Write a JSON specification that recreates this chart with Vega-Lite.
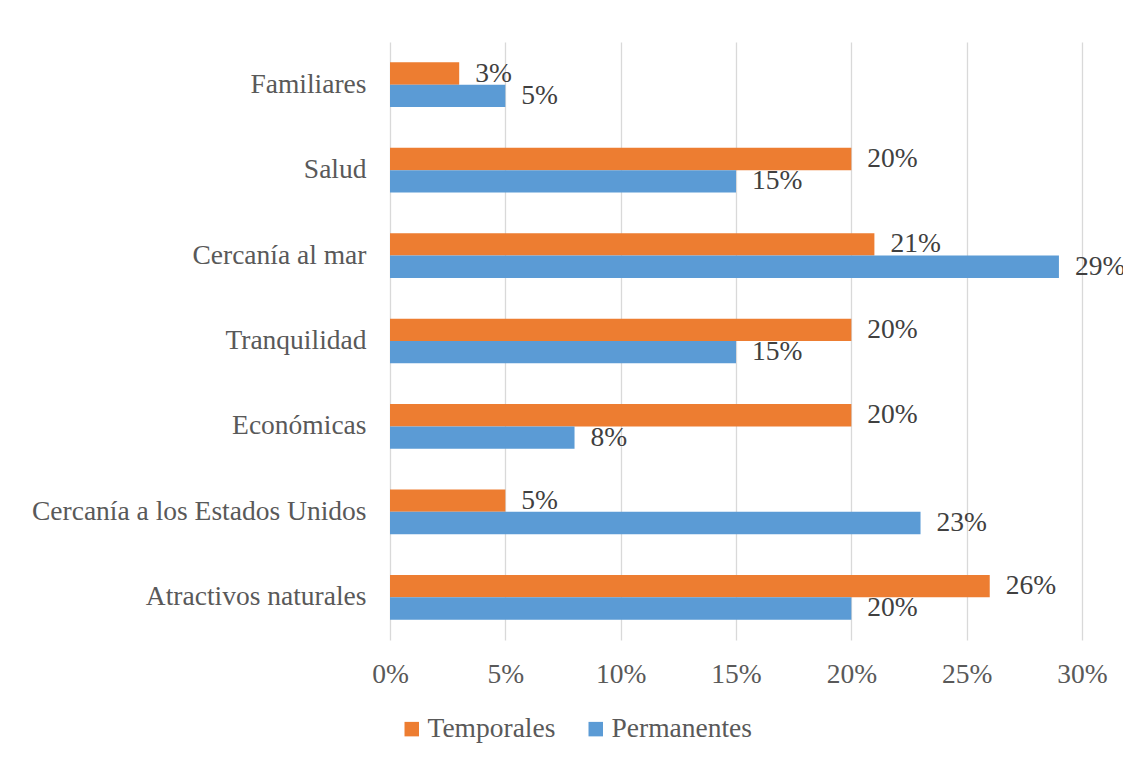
{
  "$schema": "https://vega.github.io/schema/vega-lite/v6.json",
  "width": 692,
  "height": 598,
  "autosize": "none",
  "padding": {"left": 390, "top": 42, "right": 41, "bottom": 122},
  "background": "white",
  "config": {
    "view": {"stroke": null},
    "font": "Liberation Serif",
    "axis": {"labelFont": "Liberation Serif"},
    "legend": {"labelFont": "Liberation Serif"},
    "text": {"font": "Liberation Serif"}
  },
  "data": {
    "values": [
      {"motivo": "Familiares", "tipo": "Temporales", "valor": 0.03},
      {"motivo": "Familiares", "tipo": "Permanentes", "valor": 0.05},
      {"motivo": "Salud", "tipo": "Temporales", "valor": 0.20},
      {"motivo": "Salud", "tipo": "Permanentes", "valor": 0.15},
      {"motivo": "Cercanía al mar", "tipo": "Temporales", "valor": 0.21},
      {"motivo": "Cercanía al mar", "tipo": "Permanentes", "valor": 0.29},
      {"motivo": "Tranquilidad", "tipo": "Temporales", "valor": 0.20},
      {"motivo": "Tranquilidad", "tipo": "Permanentes", "valor": 0.15},
      {"motivo": "Económicas", "tipo": "Temporales", "valor": 0.20},
      {"motivo": "Económicas", "tipo": "Permanentes", "valor": 0.08},
      {"motivo": "Cercanía a los Estados Unidos", "tipo": "Temporales", "valor": 0.05},
      {"motivo": "Cercanía a los Estados Unidos", "tipo": "Permanentes", "valor": 0.23},
      {"motivo": "Atractivos naturales", "tipo": "Temporales", "valor": 0.26},
      {"motivo": "Atractivos naturales", "tipo": "Permanentes", "valor": 0.20}
    ]
  },
  "encoding": {
    "y": {
      "field": "motivo",
      "type": "nominal",
      "sort": ["Familiares", "Salud", "Cercanía al mar", "Tranquilidad", "Económicas", "Cercanía a los Estados Unidos", "Atractivos naturales"],
      "scale": {"paddingInner": 0.477, "paddingOuter": 0.2385},
      "axis": {
        "title": null,
        "labelFont": "Liberation Serif",
        "labelFontSize": 27.5,
        "labelColor": "#595959",
        "labelPadding": 24,
        "ticks": false,
        "tickSize": 0,
        "domain": false,
        "grid": false,
        "labelLimit": 500
      }
    },
    "yOffset": {"field": "tipo", "type": "nominal", "sort": ["Temporales", "Permanentes"]},
    "x": {
      "field": "valor",
      "type": "quantitative",
      "scale": {"domain": [0, 0.3], "nice": false},
      "axis": {
        "title": null,
        "format": ".0%",
        "values": [0, 0.05, 0.1, 0.15, 0.2, 0.25, 0.3],
        "grid": true,
        "gridColor": "#d9d9d9",
        "gridWidth": 1.3,
        "domain": false,
        "ticks": false,
        "tickSize": 0,
        "labelPadding": 20,
        "labelFont": "Liberation Serif",
        "labelFontSize": 27.5,
        "labelColor": "#595959",
        "labelFlush": false
      }
    }
  },
  "layer": [
    {
      "mark": {"type": "bar"},
      "encoding": {
        "color": {
          "field": "tipo",
          "type": "nominal",
          "scale": {"domain": ["Temporales", "Permanentes"], "range": ["#ED7D31", "#5B9BD5"]},
          "legend": {
            "title": null,
            "orient": "none",
            "legendX": 8,
            "legendY": 673,
            "direction": "horizontal",
            "columns": 2,
            "symbolType": "square",
            "symbolSize": 210,
            "symbolStrokeWidth": 0,
            "symbolOpacity": 1,
            "labelFont": "Liberation Serif",
            "labelFontSize": 27.5,
            "labelColor": "#595959",
            "labelOffset": 2,
            "columnPadding": 26,
            "padding": 0
          }
        }
      }
    },
    {
      "mark": {"type": "text", "align": "left", "baseline": "middle", "dx": 16, "font": "Liberation Serif", "fontSize": 27.5, "color": "#404040"},
      "encoding": {"text": {"field": "valor", "type": "quantitative", "format": ".0%"}}
    }
  ]
}
